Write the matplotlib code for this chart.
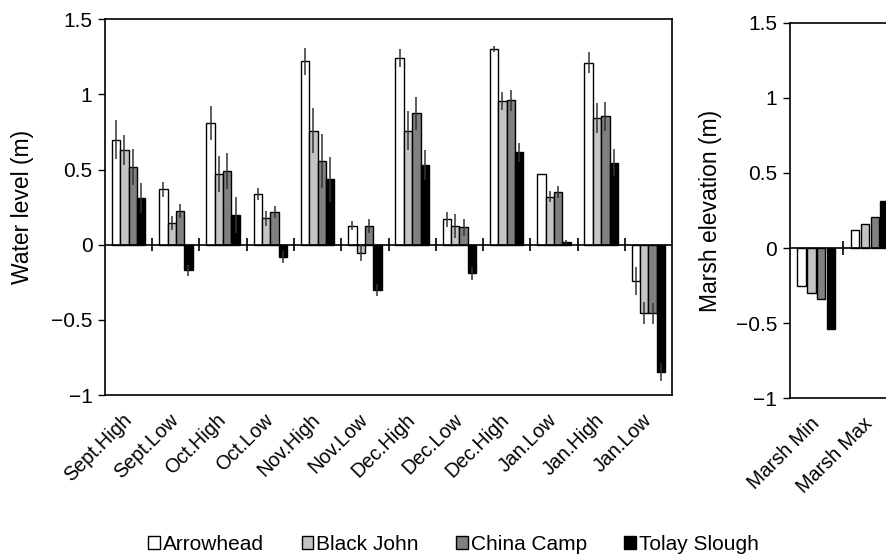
import numpy as np
import matplotlib
matplotlib.use("Agg")
import matplotlib.pyplot as plt
from matplotlib.patches import Patch

plt.rcParams['font.family'] = ['Liberation Sans', 'DejaVu Sans']

# monthly water levels (m), 4 sites
periods = ['Sept.High', 'Sept.Low', 'Oct.High', 'Oct.Low', 'Nov.High', 'Nov.Low',
           'Dec.High', 'Dec.Low', 'Dec.High', 'Jan.Low', 'Jan.High', 'Jan.Low']
sites = ['Arrowhead', 'Black John', 'China Camp', 'Tolay Slough']

arrowhead = [0.70, 0.37, 0.81, 0.34, 1.22, 0.125, 1.24, 0.17, 1.30, 0.47, 1.21, -0.24]
arrowhead_err = [0.13, 0.05, 0.11, 0.04, 0.09, 0.03, 0.06, 0.05, 0.02, 0.0, 0.07, 0.095]
black_john = [0.63, 0.145, 0.47, 0.175, 0.76, -0.055, 0.76, 0.125, 0.955, 0.32, 0.845, -0.455]
black_john_err = [0.10, 0.045, 0.12, 0.05, 0.15, 0.055, 0.13, 0.08, 0.06, 0.035, 0.10, 0.075]
china_camp = [0.52, 0.225, 0.49, 0.22, 0.56, 0.125, 0.875, 0.115, 0.96, 0.35, 0.855, -0.455]
china_camp_err = [0.12, 0.045, 0.12, 0.04, 0.18, 0.045, 0.11, 0.055, 0.07, 0.04, 0.095, 0.07]
tolay = [0.31, -0.17, 0.20, -0.082, 0.435, -0.30, 0.53, -0.19, 0.615, 0.018, 0.545, -0.845]
tolay_err = [0.10, 0.035, 0.12, 0.04, 0.15, 0.04, 0.10, 0.045, 0.065, 0.015, 0.09, 0.06]

# marsh elevations (m)
marsh_labels = ['Marsh Min', 'Marsh Max']
marsh_arrowhead = [-0.25, 0.12]
marsh_black_john = [-0.30, 0.16]
marsh_china_camp = [-0.34, 0.21]
marsh_tolay = [-0.54, 0.31]

colors = ['white', '#c4c4c4', '#808080', 'black']
yticks = [-1, -0.5, 0, 0.5, 1, 1.5]
ytick_labels = ['\u22121', '\u22120.5', '0', '0.5', '1', '1.5']

fig = plt.figure(figsize=(8.86, 5.58), dpi=100)
ax1 = fig.add_axes([0.1185, 0.2921, 0.640, 0.6733])
ax2 = fig.add_axes([0.8911, 0.2862, 0.1208, 0.6731])

def style_axis(ax, labels, ylabel):
    n = len(labels)
    ax.set_xlim(-0.5, n - 0.5)
    ax.set_ylim(-1, 1.5)
    ax.set_yticks(yticks)
    ax.set_yticklabels(ytick_labels, fontsize=15)
    ax.tick_params(axis='y', direction='out', length=5, width=1, pad=4)
    ax.set_xticks(np.arange(n))
    ax.set_xticklabels(labels, rotation=45, ha='right', va='center',
                       rotation_mode='anchor', fontsize=14.2)
    ax.tick_params(axis='x', length=0, pad=16)
    ax.axhline(0, color='black', lw=1.2, zorder=3)
    ax.vlines(np.arange(n - 1) + 0.5, -0.045, 0.045, color='black', lw=1.2, zorder=3)
    for s in ax.spines.values():
        s.set_linewidth(1.2)
    ax.set_ylabel(ylabel, fontsize=16.5)

# left panel
x = np.arange(len(periods))
w = 0.177
series = [(arrowhead, arrowhead_err), (black_john, black_john_err),
          (china_camp, china_camp_err), (tolay, tolay_err)]
for i, (vals, err) in enumerate(series):
    xs = x + (i - 1.5) * w
    ax1.bar(xs, vals, width=w, color=colors[i], edgecolor='black', lw=1.0, zorder=2)
    ax1.errorbar(xs, vals, yerr=err, fmt='none', ecolor='#333333', elinewidth=1.1,
                 capsize=0, zorder=4)
style_axis(ax1, periods, 'Water level (m)')
ax1.yaxis.set_label_coords(-0.125, 0.5)

# right panel
x2 = np.arange(len(marsh_labels))
w2 = 0.157
step2 = 0.184
marsh_series = [marsh_arrowhead, marsh_black_john, marsh_china_camp, marsh_tolay]
for i, vals in enumerate(marsh_series):
    ax2.bar(x2 + (i - 1.5) * step2, vals, width=w2, color=colors[i],
            edgecolor='black', lw=1.0, zorder=2)
style_axis(ax2, marsh_labels, 'Marsh elevation (m)')
ax2.yaxis.set_label_coords(-0.63, 0.5)

handles = [Patch(facecolor=c, edgecolor='black', lw=1.0) for c in colors]
fig.legend(handles, sites, loc='center', bbox_to_anchor=(0.512, 0.024), ncol=4,
           frameon=False, fontsize=15, handlelength=0.55, handleheight=0.55,
           handletextpad=0.15, columnspacing=1.8)

fig.savefig('out.png', dpi=100)
